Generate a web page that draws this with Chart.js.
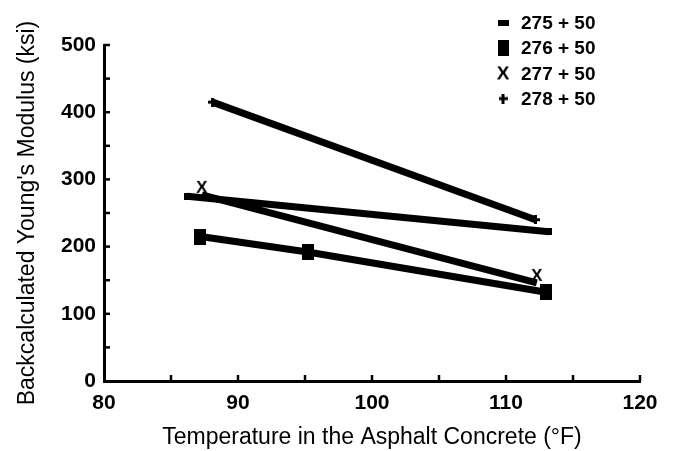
<!DOCTYPE html>
<html><head><meta charset="utf-8">
<script src="https://cdn.jsdelivr.net/npm/chart.js@4.4.1/dist/chart.umd.min.js"></script>
<style>html,body{margin:0;padding:0;background:#fff;} #wrap{width:675px;height:451px;position:relative;}</style>
</head><body><div id="wrap"><canvas id="c" width="675" height="451"></canvas></div>
<script>
// ---- data ----
const seriesLabels = ['275 + 50', '276 + 50', '277 + 50', '278 + 50'];
const s275x = [86.2, 113.2];       const s275y = [275, 222];
const s276x = [87.2, 95.2, 113.0]; const s276y = [215, 192, 132];
const s277x = [87.3, 112.3];       const s277y = [277, 146];
const s278x = [88.1, 112.2];       const s278y = [415, 240];
const xTickLabels = [80, 90, 100, 110, 120];
const yTickLabels = [0, 100, 200, 300, 400, 500];
const xTitle = 'Temperature in the Asphalt Concrete (°F)';
const yTitle = "Backcalculated Young's Modulus (ksi)";

const FONT = "'Liberation Sans', Arial, Helvetica, sans-serif";

function mk(w, h, draw) {
  const c = document.createElement('canvas');
  c.width = w; c.height = h;
  const g = c.getContext('2d');
  g.fillStyle = '#000'; g.strokeStyle = '#000';
  draw(g, w, h);
  return c;
}
const dashPt = mk(6, 7, g => g.fillRect(0, 0, 6, 7));
const squarePt = mk(12, 16, g => g.fillRect(0, 0, 12, 16));
const xPt = mk(16, 30, g => {
  g.font = "bold 17px " + FONT; g.textAlign = 'center'; g.textBaseline = 'middle';
  g.fillText('X', 8, 8);
});
const plusPt = mk(9, 9, g => { g.fillRect(3, 0, 3, 9); g.fillRect(0, 3, 9, 3); });

const legDash = mk(11, 6, g => g.fillRect(0, 0, 11, 6));
const legSquare = mk(11, 16, g => g.fillRect(0, 0, 11, 16));
const legX = mk(16, 22, g => {
  g.font = "bold 19px " + FONT; g.textAlign = 'center'; g.textBaseline = 'middle';
  g.fillText('X', 8, 12);
});
const legPlus = mk(9, 10, g => { g.fillRect(3, 0, 3, 10); g.fillRect(0, 3.5, 9, 3); });
const legendMarks = [legDash, legSquare, legX, legPlus];

function pts(xs, ys) { return xs.map((x, i) => ({ x: x, y: ys[i] })); }

function ds(label, xs, ys, style) {
  return {
    label: label, data: pts(xs, ys), showLine: true, fill: false, tension: 0,
    borderColor: '#000', backgroundColor: '#000', borderWidth: 7, borderCapStyle: 'butt',
    pointStyle: style, pointRadius: 6, pointHoverRadius: 6
  };
}

const innerTicks = {
  id: 'innerTicks',
  afterDraw(chart) {
    const { ctx, scales: { x, y } } = chart;
    ctx.save();
    ctx.strokeStyle = '#000'; ctx.lineWidth = 2.5;
    for (let v = x.min + 5; v <= x.max + 1e-9; v += 5) {
      const px = x.getPixelForValue(v);
      ctx.beginPath(); ctx.moveTo(px, y.bottom); ctx.lineTo(px, y.bottom - 6); ctx.stroke();
    }
    for (let v = y.min + 50; v <= y.max + 1e-9; v += 50) {
      const py = y.getPixelForValue(v);
      ctx.beginPath(); ctx.moveTo(x.left, py); ctx.lineTo(x.left + 6, py); ctx.stroke();
    }
    ctx.restore();
  }
};

const customLegend = {
  id: 'customLegend',
  afterDraw(chart) {
    const ctx = chart.ctx;
    ctx.save();
    ctx.fillStyle = '#000';
    ctx.font = "bold 19px " + FONT;
    ctx.textBaseline = 'middle';
    ctx.textAlign = 'left';
    chart.data.datasets.forEach((d, i) => {
      const cy = 23 + i * 25.2;
      const m = legendMarks[i];
      ctx.drawImage(m, 503 - m.width / 2, cy - m.height / 2);
      ctx.fillText(d.label, 521, cy + 1);
    });
    ctx.restore();
  }
};

new Chart(document.getElementById('c'), {
  type: 'scatter',
  data: {
    datasets: [
      ds(seriesLabels[0], s275x, s275y, dashPt),
      ds(seriesLabels[1], s276x, s276y, squarePt),
      ds(seriesLabels[2], s277x, s277y, xPt),
      ds(seriesLabels[3], s278x, s278y, plusPt)
    ]
  },
  options: {
    responsive: false, animation: false, devicePixelRatio: 1,
    events: [],
    layout: { padding: { left: 0, right: 35, top: 45, bottom: 0 } },
    plugins: { legend: { display: false }, tooltip: { enabled: false } },
    scales: {
      x: {
        type: 'linear', min: xTickLabels[0], max: xTickLabels[xTickLabels.length - 1],
        afterBuildTicks: s => { s.ticks = xTickLabels.map(v => ({ value: v })); },
        afterFit: s => { s.height = 70; },
        grid: { display: false, drawTicks: false, tickLength: 0 },
        border: { display: true, color: '#000', width: 3 },
        ticks: { color: '#000', padding: 10, font: { family: FONT, size: 21, weight: 'bold' }, maxRotation: 0, autoSkip: false },
        title: { display: true, text: xTitle, color: '#000', font: { family: FONT, size: 23 }, padding: { top: 0, bottom: 0 } }
      },
      y: {
        type: 'linear', min: yTickLabels[0], max: yTickLabels[yTickLabels.length - 1],
        afterBuildTicks: s => { s.ticks = yTickLabels.map(v => ({ value: v })); },
        afterFit: s => { s.width = 104; },
        grid: { display: false, drawTicks: false, tickLength: 0 },
        border: { display: true, color: '#000', width: 3 },
        ticks: { color: '#000', padding: 8, font: { family: FONT, size: 21, weight: 'bold' }, autoSkip: false },
        title: { display: true, text: yTitle, color: '#000', font: { family: FONT, size: 23 }, padding: { top: 14, bottom: 0 } }
      }
    }
  },
  plugins: [innerTicks, customLegend]
});
</script></body></html>
